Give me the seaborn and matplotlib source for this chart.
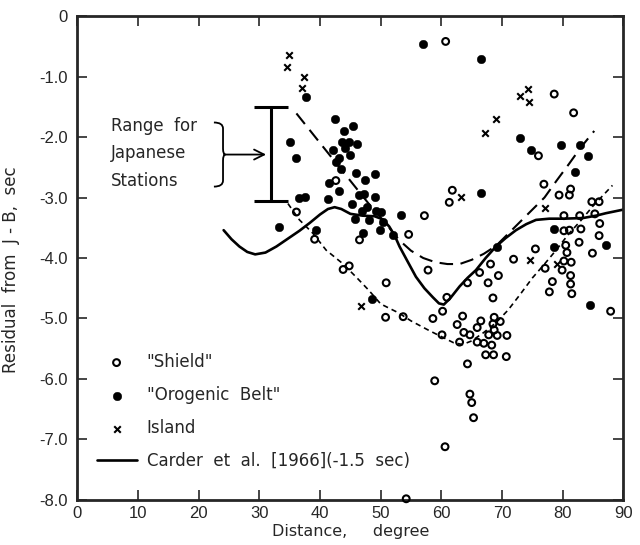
import numpy as np
import pandas as pd
import matplotlib
matplotlib.use("Agg")
import matplotlib.pyplot as plt
from matplotlib.path import Path
from matplotlib.patches import PathPatch
import seaborn as sns

# Residuals (distance in degrees, residual in sec)
shield_dist = [60.7, 78.6, 81.8, 76.0, 42.6, 61.8, 61.3, 76.9, 79.4, 81.1, 81.3, 84.8, 86.0,
               57.2, 54.6, 36.1, 39.1, 46.5, 43.8, 44.8, 57.8, 50.9, 50.8, 53.7, 80.2, 82.8,
               85.3, 86.1, 86.0, 80.2, 81.1, 83.0, 82.7, 84.9, 80.5, 80.7, 75.5, 71.9, 80.2,
               81.4, 79.9, 81.3, 81.3, 81.5, 77.1, 78.3, 77.8, 87.9, 66.3, 68.1, 69.4, 67.7,
               64.3, 60.9, 68.5, 60.2, 58.6, 63.5, 62.6, 60.1, 63.7, 64.7, 63.0, 66.5, 65.9,
               68.7, 69.7, 68.5, 68.7, 67.8, 69.2, 70.8, 65.9, 67.0, 68.3, 67.3, 68.6, 70.7,
               64.3, 58.9, 64.7, 65.0, 65.3, 60.6, 54.2]
shield_res = [-0.42, -1.29, -1.60, -2.31, -2.72, -2.88, -3.08, -2.78, -2.96, -2.96, -2.86, -3.07, -3.07,
              -3.30, -3.61, -3.24, -3.69, -3.70, -4.19, -4.13, -4.20, -4.41, -4.98, -4.97, -3.30, -3.30,
              -3.27, -3.43, -3.63, -3.55, -3.54, -3.52, -3.74, -3.92, -3.79, -3.91, -3.85, -4.02, -4.05,
              -4.07, -4.20, -4.29, -4.43, -4.59, -4.17, -4.39, -4.56, -4.88, -4.24, -4.10, -4.29, -4.41,
              -4.41, -4.65, -4.66, -4.88, -5.00, -4.96, -5.10, -5.27, -5.23, -5.27, -5.39, -5.04, -5.15,
              -4.98, -5.05, -5.09, -5.19, -5.27, -5.28, -5.28, -5.39, -5.41, -5.44, -5.60, -5.60, -5.63,
              -5.75, -6.03, -6.25, -6.39, -6.64, -7.12, -7.98]

orogenic_dist = [57.0, 66.5, 37.7, 42.4, 45.5, 44.0, 43.6, 44.8, 46.1, 44.1, 42.1, 45.0, 43.2,
                 42.6, 43.5, 45.9, 49.0, 47.4, 41.5, 43.1, 41.3, 46.5, 47.3, 49.1, 45.3, 47.8,
                 46.9, 49.2, 50.0, 53.3, 45.7, 48.1, 50.3, 49.8, 47.0, 52.0, 35.1, 36.0, 36.6,
                 37.5, 33.3, 39.3, 48.6, 66.5, 73.0, 74.7, 79.7, 82.9, 84.2, 82.1, 69.1, 78.5,
                 78.5, 87.1, 84.5]
orogenic_res = [-0.47, -0.71, -1.34, -1.70, -1.81, -1.90, -2.09, -2.09, -2.12, -2.18, -2.21, -2.30, -2.34,
                -2.42, -2.53, -2.60, -2.61, -2.71, -2.76, -2.90, -3.03, -2.96, -2.95, -2.99, -3.11, -3.15,
                -3.23, -3.22, -3.24, -3.29, -3.36, -3.38, -3.40, -3.53, -3.58, -3.62, -2.09, -2.35, -3.01,
                -2.99, -3.48, -3.53, -4.67, -2.92, -2.01, -2.21, -2.14, -2.14, -2.31, -2.58, -3.81, -3.52,
                -3.81, -3.79, -4.77]

island_dist = [34.9, 34.6, 37.4, 37.0, 74.2, 73.0, 74.4, 69.0, 67.2, 63.2, 77.1, 74.6, 79.0, 46.8]
island_res = [-0.64, -0.84, -1.00, -1.19, -1.20, -1.33, -1.42, -1.70, -1.93, -2.99, -3.18, -4.04, -4.10, -4.79]

# Carder et al. (1966) curve shifted by -1.5 sec
carder_dist = [24.1, 25.4, 26.7, 28.0, 29.3, 31.0, 32.8, 34.7, 36.6, 38.3, 40.0, 41.3, 42.4, 43.5,
               45.0, 47.0, 49.0, 50.3, 51.4, 52.3, 53.1, 54.5, 55.8, 57.2, 58.6, 59.6, 60.4, 61.5,
               63.0, 64.3, 65.7, 67.3, 69.0, 70.6, 72.3, 74.0, 75.6, 77.8, 80.0, 83.3, 85.5, 87.1, 90.0]
carder_res = [-3.54, -3.69, -3.81, -3.90, -3.94, -3.91, -3.81, -3.68, -3.55, -3.42, -3.28, -3.19, -3.16, -3.19,
              -3.27, -3.30, -3.31, -3.36, -3.48, -3.63, -3.81, -4.07, -4.31, -4.50, -4.65, -4.75, -4.77, -4.66,
              -4.47, -4.33, -4.20, -4.00, -3.81, -3.67, -3.54, -3.44, -3.37, -3.35, -3.35, -3.34, -3.30, -3.26, -3.20]

# orogenic belt trend (long dashes) and shield trend (short dashes)
orogenic_fit_dist = [36.1, 40.0, 44.0, 48.0, 51.0, 53.0, 55.0, 57.0, 59.0, 61.0, 63.0, 65.0, 67.0,
                     69.0, 71.0, 73.0, 75.0, 77.0, 79.0, 81.0, 83.0, 85.2]
orogenic_fit_res = [-1.61, -2.10, -2.60, -3.10, -3.45, -3.70, -3.88, -4.00, -4.07, -4.10, -4.10, -4.03, -3.93,
                    -3.80, -3.60, -3.40, -3.20, -3.00, -2.72, -2.45, -2.17, -1.90]
shield_fit_dist = [34.7, 36.6, 38.8, 41.0, 43.7, 46.0, 48.0, 50.0, 53.0, 55.0, 58.0, 60.0, 62.0, 63.5,
                   65.0, 67.0, 69.0, 71.0, 73.0, 75.0, 77.0, 79.0, 81.0, 83.0, 85.0, 86.5, 88.2]
shield_fit_res = [-3.10, -3.37, -3.59, -3.87, -4.09, -4.32, -4.53, -4.76, -4.91, -5.04, -5.20, -5.30, -5.40, -5.43,
                  -5.37, -5.23, -5.07, -4.86, -4.60, -4.33, -4.10, -3.86, -3.60, -3.38, -3.14, -2.98, -2.80]

# range for Japanese stations
japan_dist = 31.9
japan_top, japan_bottom = -1.50, -3.05

x_ticks = [0, 10, 20, 30, 40, 50, 60, 70, 80, 90]
y_ticks = [0, -1, -2, -3, -4, -5, -6, -7, -8]
y_tick_labels = ['0', '-1.0', '-2.0', '-3.0', '-4.0', '-5.0', '-6.0', '-7.0', '-8.0']

sns.set_style("ticks")
plt.rcParams['font.family'] = ['Liberation Sans', 'DejaVu Sans']
plt.rcParams['axes.linewidth'] = 2.0
text_font = {'family': 'DejaVu Sans', 'size': 12}

fig = plt.figure(figsize=(6.4, 5.45), dpi=100)
ax = fig.add_axes([0.121, 0.0826, 0.853, 0.888])

sns.scatterplot(x=shield_dist, y=shield_res, ax=ax, marker='o', s=24, color='black',
                facecolors='none', edgecolors='black', linewidth=1.5, label='"Shield"',
                clip_on=False, zorder=4)
sns.scatterplot(x=orogenic_dist, y=orogenic_res, ax=ax, marker='o', s=38, color='black',
                edgecolors='black', linewidth=0.3, label='"Orogenic  Belt"', zorder=4)
sns.scatterplot(x=island_dist, y=island_res, ax=ax, marker='x', s=22, color='black',
                linewidth=1.5, label='Island', zorder=4)

sns.lineplot(x=carder_dist, y=carder_res, ax=ax, color='black', lw=1.9, sort=False,
             estimator=None, label='Carder  et  al.  [1966](-1.5  sec)')
sns.lineplot(x=orogenic_fit_dist, y=orogenic_fit_res, ax=ax, color='black', lw=1.5, sort=False,
             estimator=None, linestyle=(0, (6.5, 3.6)), legend=False)
sns.lineplot(x=shield_fit_dist, y=shield_fit_res, ax=ax, color='black', lw=1.2, sort=False,
             estimator=None, linestyle=(0, (3.2, 2.4)), legend=False)

# range bar, brace and arrow
japan_mid = (japan_top + japan_bottom) / 2
ax.errorbar([japan_dist], [japan_mid], yerr=[(japan_top - japan_bottom) / 2], fmt='none',
            ecolor='black', elinewidth=2.2, capsize=12.5, capthick=2.2)
ax.annotate('', xy=(31.1, -2.29), xytext=(24.3, -2.29),
            arrowprops=dict(arrowstyle='->', lw=1.3, color='black', mutation_scale=18,
                            shrinkA=0, shrinkB=0))
bx0, bx1, bx2 = 22.5, 24.0, 24.4
by0, by1, by2 = -1.76, -2.29, -2.82
verts = [(bx0, by0), (bx1, by0), (bx1, by0 - 0.1),
         (bx1, by1 + 0.1), (bx1, by1), (bx2, by1),
         (bx1, by1), (bx1, by1 - 0.1),
         (bx1, by2 + 0.1), (bx1, by2), (bx0, by2)]
codes = [Path.MOVETO, Path.CURVE3, Path.CURVE3,
         Path.LINETO, Path.CURVE3, Path.CURVE3,
         Path.CURVE3, Path.CURVE3,
         Path.LINETO, Path.CURVE3, Path.CURVE3]
ax.add_patch(PathPatch(Path(verts, codes), fill=False, lw=1.3, color='black'))
ax.text(5.5, -2.27, 'Range  for\nJapanese\nStations', ha='left', va='center',
        linespacing=1.68, fontdict=text_font)

ax.set_xlim(0, 90)
ax.set_ylim(-8, 0)
ax.set_xticks(x_ticks)
ax.set_yticks(y_ticks)
ax.set_yticklabels(y_tick_labels)
ax.tick_params(direction='in', length=7, width=1.2, top=True, right=True,
               labelsize=12, pad=7)
ax.tick_params(axis='x', pad=4)
ax.set_xlabel('Distance,     degree', fontdict={'family': 'DejaVu Sans', 'size': 11.5}, labelpad=2.5)
ax.set_ylabel('Residual  from  J - B,  sec', fontdict=text_font)
ax.yaxis.set_label_coords(-0.105, 0.475)

handles, labels = ax.get_legend_handles_labels()
order = ['"Shield"', '"Orogenic  Belt"', 'Island', 'Carder  et  al.  [1966](-1.5  sec)']
handles = [handles[labels.index(o)] for o in order]
ax.legend(handles, order, loc='lower left', bbox_to_anchor=(0.035, 0.062), frameon=False,
          handlelength=2.4, handletextpad=0.6, labelspacing=0.9, borderaxespad=0,
          borderpad=0, prop={'family': 'DejaVu Sans', 'size': 12}, scatterpoints=1)

fig.savefig('out.png', dpi=100)
